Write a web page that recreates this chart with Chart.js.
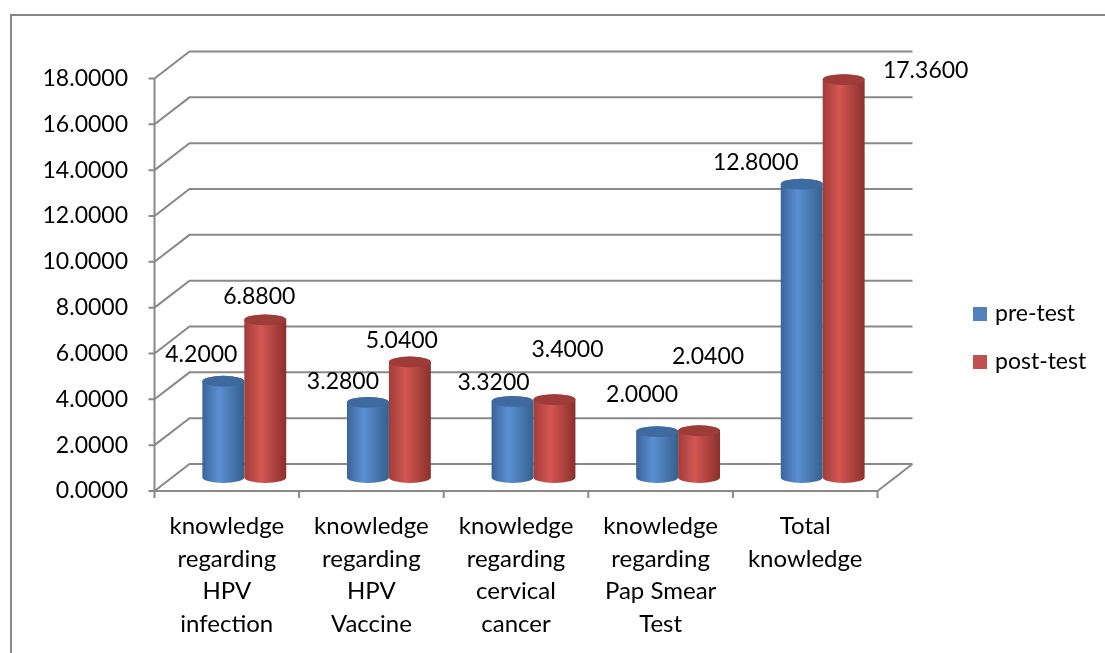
<!DOCTYPE html>
<html>
<head>
<meta charset="utf-8">
<script src="https://cdn.jsdelivr.net/npm/chart.js@4.4.1/dist/chart.umd.min.js"></script>
<style>
  html, body { margin: 0; padding: 0; background: #fff; }
  canvas { display: block; }
</style>
</head>
<body>
<canvas id="chart" width="1105" height="653"></canvas>
<script>
// categories, one array of lines per label
const categories = [
  ['knowledge', 'regarding', 'HPV', 'infection'],
  ['knowledge', 'regarding', 'HPV', 'Vaccine'],
  ['knowledge', 'regarding', 'cervical', 'cancer'],
  ['knowledge', 'regarding', 'Pap Smear', 'Test'],
  ['Total', 'knowledge']
];
const seriesNames = ['pre-test', 'post-test'];
const preTest = [4.2, 3.28, 3.32, 2.0, 12.8];
const postTest = [6.88, 5.04, 3.4, 2.04, 17.36];

// y axis ticks
const yMin = 0;
const yMax = 18;
const yStep = 2;

// looks
const fontFamily = 'Lato, "Open Sans", sans-serif';
const fontSize = 23;
const gridColor = '#898989';
const seriesColors = ['#4f81bd', '#c0504d'];
const bodyShades = [
  ['#3a6499', '#5b8fd2', '#35608f'],
  ['#a13d3a', '#d35652', '#8a302d']
];
const capColors = ['#3f6a9f', '#9e3c3a'];
// 3d depth: half the shift between front and back wall
const depth = { dx: 17.5, dy: 13.5 };
// where excel put each value label, relative to the bar top
const preLabelShift = [[-22, -27], [-25, -21], [-19, -19], [-15, -37], [-46, -22]];
const postLabelShift = [[-6, -23], [-8, -21], [13, -50], [9, -74], [82, -9]];

// draws a cylinder on top of a bar element
function drawCylinder(ctx, bar, shades, cap) {
  const p = bar.getProps(['x', 'y', 'base', 'width'], true);
  const rx = p.width / 2;
  const ry = p.width * 0.13;
  const l = p.x - rx, r = p.x + rx;
  const g = ctx.createLinearGradient(l, 0, r, 0);
  g.addColorStop(0, shades[0]);
  g.addColorStop(0.4, shades[1]);
  g.addColorStop(1, shades[2]);
  ctx.fillStyle = g;
  ctx.beginPath();
  ctx.moveTo(l, p.y);
  ctx.lineTo(l, p.base);
  ctx.ellipse(p.x, p.base, rx, ry, 0, Math.PI, 0, true);
  ctx.lineTo(r, p.y);
  ctx.ellipse(p.x, p.y, rx, ry, 0, 0, Math.PI, true);
  ctx.closePath();
  ctx.fill();

  ctx.fillStyle = cap;
  ctx.beginPath();
  ctx.ellipse(p.x, p.y, rx, ry, 0, 0, Math.PI * 2);
  ctx.fill();
}

const wallsPlugin = {
  id: 'walls',
  beforeDraw(chart) {
    const ctx = chart.ctx;
    // frame round the whole chart
    ctx.save();
    ctx.strokeStyle = '#878787';
    ctx.lineWidth = 2;
    ctx.beginPath();
    ctx.moveTo(11, chart.height);
    ctx.lineTo(11, 15);
    ctx.lineTo(chart.width, 15);
    ctx.stroke();
    ctx.restore();
  },
  beforeDatasetsDraw(chart) {
    const { ctx, chartArea: a, scales: { y } } = chart;
    const dx = depth.dx, dy = depth.dy;
    ctx.save();
    ctx.strokeStyle = gridColor;
    ctx.lineWidth = 2;
    ctx.beginPath();
    // back wall lines + left wall diagonals + tick marks
    y.ticks.forEach(t => {
      const py = y.getPixelForValue(t.value);
      ctx.moveTo(a.left - dx - 6, py + dy);
      ctx.lineTo(a.left - dx, py + dy);
      ctx.lineTo(a.left + dx, py - dy);
      ctx.lineTo(a.right + dx, py - dy);
    });
    const y0 = y.getPixelForValue(yMin);
    const y1 = y.getPixelForValue(yMax);
    // front y axis, floor front edge and right edge
    ctx.moveTo(a.left - dx, y1 + dy);
    ctx.lineTo(a.left - dx, y0 + dy);
    ctx.lineTo(a.right - dx, y0 + dy);
    ctx.lineTo(a.right + dx, y0 - dy);
    // category tick marks
    const n = categories.length;
    const cw = (a.right - a.left) / n;
    for (let i = 0; i <= n; i++) {
      const px = a.left + i * cw - dx;
      ctx.moveTo(px, y0 + dy);
      ctx.lineTo(px, y0 + dy + 7);
    }
    ctx.stroke();
    ctx.restore();
  },
  afterDatasetsDraw(chart) {
    const ctx = chart.ctx;
    const metas = [chart.getDatasetMeta(0), chart.getDatasetMeta(1)];
    ctx.save();
    for (let i = 0; i < categories.length; i++) {
      metas.forEach((m, s) => drawCylinder(ctx, m.data[i], bodyShades[s], capColors[s]));
    }
    // value labels
    ctx.fillStyle = '#000';
    ctx.font = fontSize + 'px ' + fontFamily;
    ctx.textAlign = 'center';
    ctx.textBaseline = 'middle';
    const values = [preTest, postTest];
    const shifts = [preLabelShift, postLabelShift];
    metas.forEach((m, s) => {
      m.data.forEach((bar, i) => {
        ctx.fillText(values[s][i].toFixed(4), bar.x + shifts[s][i][0], bar.y + shifts[s][i][1]);
      });
    });
    // legend
    ctx.textAlign = 'left';
    const legendY = [314, 362];
    seriesNames.forEach((name, s) => {
      ctx.fillStyle = seriesColors[s];
      ctx.fillRect(973, legendY[s] - 7, 14, 14);
      ctx.fillStyle = '#000';
      ctx.fillText(name, 995, legendY[s]);
    });
    ctx.restore();
  }
};

const tickFont = { family: fontFamily, size: fontSize, lineHeight: 1.41 };
const catFont = { family: fontFamily, size: 24, lineHeight: 32.5 / 24 };

new Chart(document.getElementById('chart'), {
  type: 'bar',
  data: {
    labels: categories,
    datasets: [
      { label: seriesNames[0], data: preTest, backgroundColor: 'rgba(0,0,0,0)', borderWidth: 0 },
      { label: seriesNames[1], data: postTest, backgroundColor: 'rgba(0,0,0,0)', borderWidth: 0 }
    ]
  },
  options: {
    responsive: false,
    animation: false,
    devicePixelRatio: 1,
    layout: { padding: { left: 0, top: 65, right: 210, bottom: 0 } },
    datasets: { bar: { categoryPercentage: 0.58, barPercentage: 1 } },
    plugins: { legend: { display: false }, tooltip: { enabled: false } },
    scales: {
      x: {
        grid: { display: false, drawTicks: false },
        border: { display: false },
        ticks: {
          color: '#000', font: catFont, padding: 33,
          labelOffset: -depth.dx, maxRotation: 0, autoSkip: false
        },
        afterFit(s) { s.height = 175.5; }
      },
      y: {
        min: yMin, max: yMax,
        grid: { display: false, drawTicks: false },
        border: { display: false },
        ticks: {
          stepSize: yStep, color: '#000', font: tickFont, padding: 44,
          labelOffset: depth.dy,
          callback: v => v.toFixed(4)
        },
        afterFit(s) { s.width = 172; }
      }
    }
  },
  plugins: [wallsPlugin]
});
</script>
</body>
</html>
